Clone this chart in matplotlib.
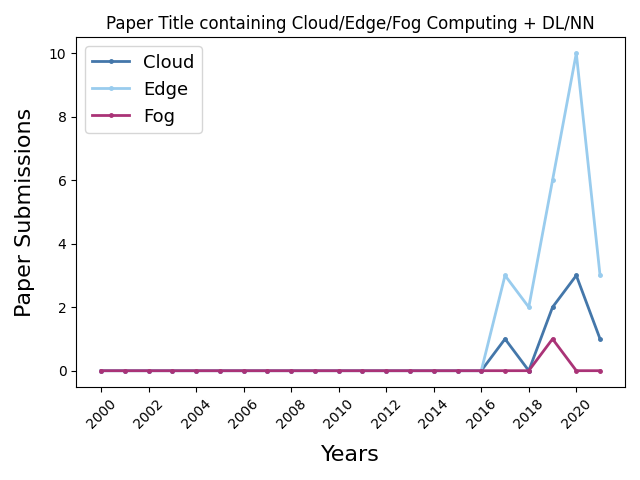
import matplotlib
matplotlib.use("Agg")
import matplotlib.pyplot as plt

years = list(range(2000, 2022))
cloud = [0] * 17 + [1, 0, 2, 3, 1]
edge = [0] * 17 + [3, 2, 6, 10, 3]
fog = [0] * 17 + [0, 0, 1, 0, 0]

fig, ax = plt.subplots(figsize=(6.4, 4.8), dpi=100)
ax.plot(years, cloud, marker=".", markersize=5, linewidth=2, color="#4477AA", label="Cloud")
ax.plot(years, edge, marker=".", markersize=5, linewidth=2, color="#99CCEE", label="Edge")
ax.plot(years, fog, marker=".", markersize=5, linewidth=2, color="#AA3377", label="Fog")

ax.set_xticks(range(2000, 2022, 2))
ax.tick_params(axis="x", labelrotation=45)
ax.set_xlabel("Years", fontsize=16, labelpad=10)
ax.set_ylabel("Paper Submissions", fontsize=16, labelpad=10)
ax.set_title("Paper Title containing Cloud/Edge/Fog Computing + DL/NN")
ax.legend(loc="upper left", fontsize=13)
plt.tight_layout()
plt.savefig("out.png")
